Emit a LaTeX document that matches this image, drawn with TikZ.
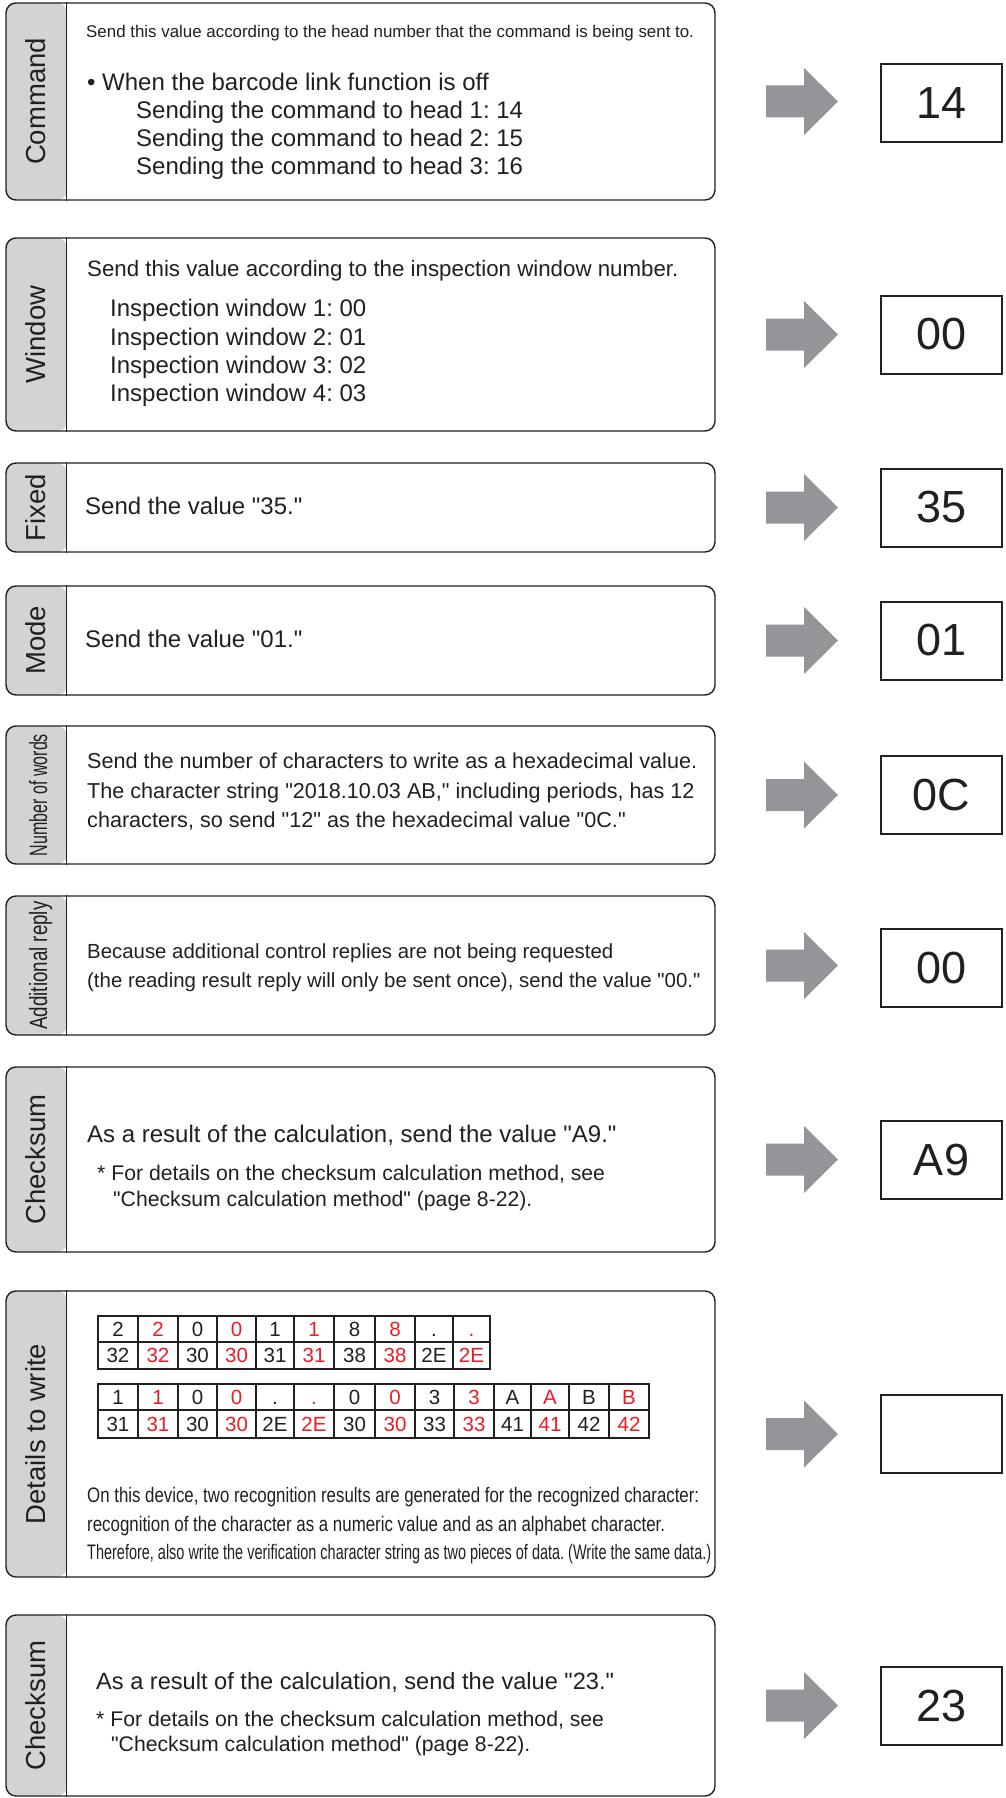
\documentclass[tikz,border=0pt]{standalone}
\usepackage{fontspec}
\setmainfont{Liberation Sans}[Ligatures=TeXOff]
\usepackage{graphicx}
\frenchspacing
\definecolor{lbl}{HTML}{D1D3D4}
\definecolor{arr}{HTML}{939598}
\definecolor{ink}{HTML}{231F20}
\definecolor{rd}{HTML}{ED1C24}
\newcommand\fs[1]{\fontsize{#1}{#1}\selectfont}
\newcommand\fitw[3]{\resizebox{#1pt}{\height}{\fs{#2}#3}}
\newcommand\barrow[1]{\fill[arr] (766,#1-16) -- (804,#1-16) -- (804,#1-33.5) -- (838,#1) -- (804,#1+33.5) -- (804,#1+16) -- (766,#1+16) -- cycle;}
\begin{document}
\frenchspacing
\begin{tikzpicture}[x=1pt,y=-1pt,
  mainbox/.style={draw=ink, line width=1.4pt, rounded corners=10pt, minimum width=709pt, inner sep=0pt,
    path picture={\fill[lbl] (path picture bounding box.north west) rectangle ([xshift=61pt]path picture bounding box.south west);}},
  lab/.style={rotate=90, anchor=base, inner sep=0pt, text=ink},
  txt/.style={anchor=base west, inner sep=0pt, text=ink},
  valbox/.style={draw=ink, line width=2pt, minimum width=121pt, minimum height=78pt, inner sep=0pt, font=\fs{45}, text=ink},
  cell/.style={inner sep=0pt, font=\fs{20.5}, text height=14.7pt, text depth=0pt},
  tline/.style={draw=ink, line width=1.1pt}]
\useasboundingbox (0,0) rectangle (1006,1798);
\fill[white] (0,0) rectangle (1006,1798);

% ---------- main boxes ----------
\foreach \t/\b/\n in {3/200/1, 238/431/2, 463/552/3, 586/695/4, 726/864/5, 896/1035/6, 1067/1252/7, 1291/1577/8, 1615/1796/9}{
  \node[mainbox, minimum height={\b-\t}] (b\n) at (360.5,{(\t+\b)/2}) {};
  \draw[ink, line width=1.4pt] ([xshift=61pt]b\n.north west) -- ([xshift=61pt]b\n.south west);
}

% ---------- labels ----------
\node[lab, font=\fs{27.5}] (l1) at (45,101.5) {Command};
\node[lab, font=\fs{27.5}] (l2) at (45,334.5) {Window};
\node[lab, font=\fs{27.5}] (l3) at (45,507.5) {Fixed};
\node[lab, font=\fs{27.5}] (l4) at (45,640.5) {Mode};
\node[lab] (l5) at (47,795) {\fitw{122}{25}{Number of words}};
\node[lab] (l6) at (47,965.5) {\fitw{128}{25}{Additional reply}};
\node[lab, font=\fs{27.5}] (l7) at (45,1159.5) {Checksum};
\node[lab, font=\fs{27.5}] (l8) at (45,1434) {Details to write};
\node[lab, font=\fs{27.5}] (l9) at (45,1705.5) {Checksum};

% ---------- box 1 ----------
\node[txt] (c1) at (86,38) {\fs{16.9}Send this value according to the head number that the command is being sent to.};
\node[txt] (c2) at (87,91) {\fs{24}• When the barcode link function is off};
\node[txt] (c3) at (136,119) {\fs{24}Sending the command to head 1: 14};
\node[txt] (c4) at (136,147) {\fs{24}Sending the command to head 2: 15};
\node[txt] (c5) at (136,175) {\fs{24}Sending the command to head 3: 16};

% ---------- box 2 ----------
\node[txt] (w1) at (87,276) {\fs{22.3}Send this value according to the inspection window number.};
\node[txt] (w2) at (110,316) {\fs{24}Inspection window 1: 00};
\node[txt] (w3) at (110,345) {\fs{24}Inspection window 2: 01};
\node[txt] (w4) at (110,373) {\fs{24}Inspection window 3: 02};
\node[txt] (w5) at (110,401) {\fs{24}Inspection window 4: 03};

% ---------- box 3, 4 ----------
\node[txt] (f1) at (85,514) {\fs{24}Send the value "35."};
\node[txt] (m1) at (85,647) {\fs{24}Send the value "01."};

% ---------- box 5 ----------
\node[txt] (n1) at (87,768) {\fs{21.6}Send the number of characters to write as a hexadecimal value.};
\node[txt] (n2) at (87,798) {\fs{21.6}The character string "2018.10.03 AB," including periods, has 12};
\node[txt] (n3) at (87,827) {\fs{21.6}characters, so send "12" as the hexadecimal value "0C."};

% ---------- box 6 ----------
\node[txt] (a1) at (87,958) {\fs{20.4}Because additional control replies are not being requested};
\node[txt] (a2) at (87,987) {\fs{20.4}(the reading result reply will only be sent once), send the value "00."};

% ---------- box 7 ----------
\node[txt] (k1) at (87,1142) {\fs{24}As a result of the calculation, send the value "A9."};
\node[txt] (k2) at (97,1180) {\fs{21.2}* For details on the checksum calculation method, see};
\node[txt] (k3) at (113,1206) {\fs{21.2}"Checksum calculation method" (page 8-22).};

% ---------- box 8: tables ----------
\foreach \xa/\xb/\ta/\tb/\col [count=\i] in {
  98/138/2/32/ink, 138/178/2/32/rd, 178/217/0/30/ink, 217/256/0/30/rd,
  256/294/1/31/ink, 294/334/1/31/rd, 334/375/8/38/ink, 375/415/8/38/rd,
  415/453/./2E/ink, 453/490/./2E/rd}{
  \draw[tline] (\xa,1316) rectangle (\xb,1369);
  \draw[tline] (\xa,1342) -- (\xb,1342);
  \node[cell, text=\col] (pa\i) at ({(\xa+\xb)/2},1329) {\ta};
  \node[cell, text=\col] (pb\i) at ({(\xa+\xb)/2},1355.5) {\tb};
}
\foreach \xa/\xb/\ta/\tb/\col [count=\i] in {
  98/138/1/31/ink, 138/178/1/31/rd, 178/217/0/30/ink, 217/256/0/30/rd,
  256/294/./2E/ink, 294/334/./2E/rd, 334/375/0/30/ink, 375/415/0/30/rd,
  415/454/3/33/ink, 454/494/3/33/rd, 494/531/A/41/ink, 531/569/A/41/rd,
  569/609/B/42/ink, 609/649/B/42/rd}{
  \draw[tline] (\xa,1384) rectangle (\xb,1438);
  \draw[tline] (\xa,1410) -- (\xb,1410);
  \node[cell, text=\col] (qa\i) at ({(\xa+\xb)/2},1397) {\ta};
  \node[cell, text=\col] (qb\i) at ({(\xa+\xb)/2},1424) {\tb};
}
\node[txt] (d1) at (87,1502) {\fitw{612}{21}{On this device, two recognition results are generated for the recognized character:}};
\node[txt] (d2) at (87,1531) {\fitw{578}{21}{recognition of the character as a numeric value and as an alphabet character.}};
\node[txt] (d3) at (87,1559) {\fitw{624}{21}{Therefore, also write the verification character string as two pieces of data. (Write the same data.)}};

% ---------- box 9 ----------
\node[txt] (s1) at (96,1689) {\fs{23.6}As a result of the calculation, send the value "23."};
\node[txt] (s2) at (96,1726) {\fs{21.2}* For details on the checksum calculation method, see};
\node[txt] (s3) at (111,1751) {\fs{21.2}"Checksum calculation method" (page 8-22).};

% ---------- arrows ----------
\barrow{101.5}
\barrow{334.5}
\barrow{507.5}
\barrow{640.5}
\barrow{795}
\barrow{965.5}
\barrow{1159.5}
\barrow{1434}
\barrow{1705.5}

% ---------- value boxes ----------
\node[valbox] (v1) at (941.5,103) {14};
\node[valbox] (v2) at (941.5,334.5) {00};
\node[valbox] (v3) at (941.5,507.5) {35};
\node[valbox] (v4) at (941.5,640.5) {01};
\node[valbox] (v5) at (941.5,795) {0C};
\node[valbox] (v6) at (941.5,968) {00};
\node[valbox] (v7) at (941.5,1159.5) {A9};
\node[valbox] (v8) at (941.5,1434) {};
\node[valbox] (v9) at (941.5,1706) {23};
\end{tikzpicture}
\end{document}
